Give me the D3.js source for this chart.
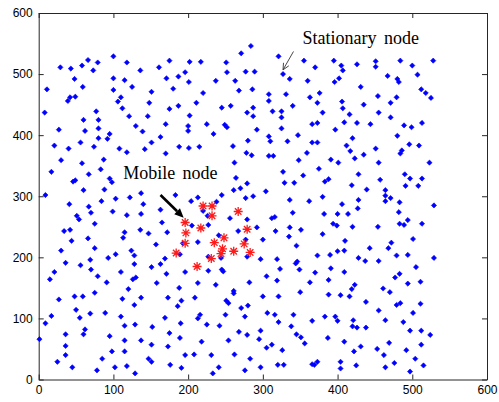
<!DOCTYPE html>
<html>
<head>
<meta charset="utf-8">
<script src="https://cdn.jsdelivr.net/npm/d3@7"></script>
<style>
  body { margin: 0; background: #fff; }
</style>
</head>
<body>
<div id="chart"></div>
<script>
// Ticks des axes
const xTicks = [0, 100, 200, 300, 400, 500, 600];
const yTicks = [0, 100, 200, 300, 400, 500, 600];

// Noeuds fixes, [x, y]
const stationaryNodes = [
  [100,529],[66,523],[79,519],[58,514],[29,511],[43,509],[73,506],[118,519],[136,506],[161,511],[175,522],[196,503],
  [48,492],[100,493],[115,490],[171,493],[187,496],[11,475],[59,479],[125,479],[100,474],[180,476],[151,471],[49,463],[42,462],[110,462],
  [284,546],[271,534],[321,529],[202,520],[217,520],[251,519],[355,522],[370,511],[395,522],[252,503],[277,504],[289,504],[327,500],
  [336,492],[201,487],[237,489],[263,489],[360,489],[396,487],[220,469],[268,473],[286,475],[308,467],[331,467],[376,469],[363,462],
  [402,493],[405,514],[407,506],[426,516],[451,521],[451,512],[484,522],[500,514],[528,522],[467,497],[480,492],[482,487],[507,499],
  [431,479],[512,475],[518,469],[525,461],[454,464],[479,462],
  [39,456],[106,455],[148,453],[112,444],[175,443],[187,448],[8,437],[77,439],[60,425],[80,425],[121,431],[146,431],[27,409],[62,407],
  [80,411],[130,415],[139,406],[170,418],[95,402],[80,395],[92,394],[56,388],[21,383],[40,378],[74,381],[108,378],[118,372],[142,377],
  [151,388],[163,397],[188,381],[170,370],[30,359],[58,354],[87,360],[17,340],[67,336],[83,344],[49,326],[46,324],[95,329],[98,323],[60,310],[88,311],
  [211,453],[245,445],[257,448],[279,437],[287,445],[287,431],[308,456],[313,439],[325,439],[325,429],[340,448],[373,453],[380,437],
  [202,432],[200,415],[200,407],[225,418],[234,402],[249,417],[252,413],[292,409],[308,398],[310,390],[325,411],[333,390],[347,400],
  [366,418],[373,420],[397,409],[201,379],[215,381],[260,382],[280,391],[278,371],[285,367],[308,366],[314,366],[359,371],[366,388],
  [373,388],[262,355],[348,359],[391,360],[375,345],[327,340],[354,334],[264,330],[279,321],[329,322],[342,322],[383,324],[388,328],
  [261,310],[270,313],[304,308],
  [406,455],[407,444],[435,450],[471,453],[416,434],[455,437],[471,429],[409,421],[426,420],[444,418],[489,416],[499,413],[513,420],
  [420,395],[480,399],[412,383],[417,374],[435,368],[423,362],[451,378],[486,375],[484,370],[496,385],[509,383],[401,355],[455,355],
  [523,355],[428,336],[490,336],[497,329],[513,329],[457,327],[419,318],[439,311],[464,310],[491,317],[508,317],
  [9,302],[41,287],[67,283],[84,292],[103,296],[122,298],[137,305],[140,287],[183,302],[70,273],[99,275],[118,269],[137,271],[163,278],
  [51,268],[54,262],[165,257],[75,255],[34,243],[42,245],[115,241],[113,232],[136,245],[147,239],[172,241],[66,231],[44,227],[157,221],
  [193,223],[30,211],[75,215],[124,211],[103,205],[93,199],[128,203],[169,198],[189,205],[36,191],[56,187],[69,196],[70,180],[128,189],
  [163,189],[151,184],[21,176],[110,176],[79,169],[171,173],[196,176],[15,164],[91,159],[126,164],[130,167],[158,158],
  [204,292],[213,298],[245,302],[277,297],[287,300],[238,291],[336,294],[362,292],[380,299],[220,276],[226,268],[256,264],[279,262],
  [312,264],[316,266],[340,273],[382,271],[205,252],[227,253],[241,236],[267,243],[292,249],[317,243],[336,249],[351,245],[394,255],
  [335,234],[380,238],[213,225],[300,229],[345,219],[277,229],[227,201],[244,199],[279,201],[297,197],[319,197],[346,193],[344,190],
  [373,203],[390,204],[227,178],[245,180],[247,177],[323,181],[349,180],[370,175],[391,182],[213,158],[282,159],[305,169],[319,162],
  [363,159],[388,163],
  [464,301],[464,292],[471,297],[428,294],[406,287],[427,280],[483,290],[482,274],[529,285],[400,271],[414,271],[494,261],[483,255],
  [489,253],[513,255],[399,252],[420,250],[454,250],[501,230],[410,227],[472,224],[468,215],[443,215],[400,210],[409,211],[479,203],
  [494,204],[428,199],[437,194],[455,194],[529,199],[505,184],[409,176],[483,173],[477,167],[494,157],[511,160],
  [188,150],[120,148],[27,131],[48,136],[59,136],[75,142],[112,132],[137,134],[173,134],[191,129],[186,120],[128,122],[50,114],[17,104],
  [55,101],[69,108],[89,109],[110,103],[169,101],[9,92],[115,88],[129,90],[152,86],[190,92],[62,82],[60,74],[36,74],[1,66],[95,71],
  [175,76],[189,68],[36,55],[115,64],[137,64],[151,57],[173,54],[98,46],[115,46],[36,40],[85,34],[147,34],[151,29],[196,40],[25,29],
  [45,20],[102,20],[118,22],[176,24],[191,19],[78,15],[129,10],
  [237,155],[209,134],[261,145],[261,141],[251,129],[254,125],[300,136],[321,136],[350,143],[388,139],[271,117],[280,121],[306,109],
  [316,106],[321,94],[341,106],[383,103],[397,103],[366,96],[216,106],[213,100],[250,106],[276,103],[225,90],[242,88],[338,87],[297,80],
  [268,78],[279,73],[345,74],[351,69],[356,59],[387,68],[295,66],[218,62],[254,64],[312,57],[305,52],[326,48],[208,41],[231,40],[262,41],
  [283,34],[241,20],[233,10],[276,15],[297,20],[320,24],[328,24],[366,25],[369,24],[373,29],
  [423,155],[419,148],[461,149],[470,143],[404,138],[416,136],[438,127],[455,113],[479,122],[484,125],[511,124],[501,109],[400,96],
  [421,97],[464,97],[488,94],[420,87],[426,85],[438,85],[497,80],[512,80],[524,73],[409,62],[431,54],[469,60],[512,57],[422,46],[453,50],
  [492,48],[462,40],[504,34],[404,29],[404,18],[425,23],[464,20],[476,27],[515,23],[497,13]
];

// Noeuds mobiles (étoiles rouges)
const mobileNodes = [
  [196,257],[197,240],[196,223],[184,207],[212,185],[220,284],[232,284],[232,268],[217,248],[267,275],
  [279,246],[248,232],[235,224],[246,214],[244,206],[261,210],[275,222],[283,208],[231,198]
];

// Annotations : [texte, x, y] et flèches [x1, y1, x2, y2] en unités des données
const labels = [["Stationary node", 353, 550], ["Mobile node", 113, 329]];
const arrowStationary = [341, 537, 327, 507];
const arrowMobile = [163, 302, 194, 265];

// Dimensions
const width = 499, height = 402;

const x = d3.scaleLinear().domain([0, 600]).range([38.7, 487]);
const y = d3.scaleLinear().domain([0, 600]).range([379.5, 13]);

const svg = d3.select("#chart").append("svg")
  .attr("width", width)
  .attr("height", height)
  .style("display", "block")
  .style("background", "#fff");

// Axes avec ticks vers l'intérieur (style MATLAB)
const axisColor = "#262626";
function styleAxis(g) {
  g.selectAll("path, line").attr("stroke", axisColor);
  g.selectAll("text")
    .attr("fill", "#000")
    .style("font-family", "'Liberation Sans', Arial, sans-serif")
    .style("font-size", "12px");
}

svg.append("g")
  .attr("transform", `translate(0,${y(0)})`)
  .call(d3.axisBottom(x).tickValues(xTicks).tickSizeInner(-5).tickSizeOuter(0).tickPadding(6))
  .call(styleAxis);
svg.append("g")
  .attr("transform", `translate(0,${y(600)})`)
  .call(d3.axisTop(x).tickValues(xTicks).tickSizeInner(-5).tickSizeOuter(0).tickFormat(""))
  .call(styleAxis);
svg.append("g")
  .attr("transform", `translate(${x(0)},0)`)
  .call(d3.axisLeft(y).tickValues(yTicks).tickSizeInner(-5).tickSizeOuter(0).tickPadding(6))
  .call(styleAxis);
svg.append("g")
  .attr("transform", `translate(${x(600)},0)`)
  .call(d3.axisRight(y).tickValues(yTicks).tickSizeInner(-5).tickSizeOuter(0).tickFormat(""))
  .call(styleAxis);

// Noeuds fixes : petits losanges bleus
svg.append("g").selectAll("path")
  .data(stationaryNodes)
  .enter()
  .append("path")
  .attr("d", "M0,-2.6L2.6,0L0,2.6L-2.6,0Z")
  .attr("transform", d => `translate(${x(d[0])},${y(d[1])})`)
  .attr("fill", "#0000ff")
  .attr("stroke", "#0000ff")
  .attr("stroke-width", 0.6);

// Noeuds mobiles : astérisques rouges
const r = 4.5, rd = r * 0.72;
const starPath = `M${-r},0L${r},0M0,${-r}L0,${r}M${-rd},${-rd}L${rd},${rd}M${-rd},${rd}L${rd},${-rd}`;
svg.append("g").selectAll("path")
  .data(mobileNodes)
  .enter()
  .append("path")
  .attr("d", starPath)
  .attr("transform", d => `translate(${x(d[0])},${y(d[1])})`)
  .attr("fill", "none")
  .attr("stroke", "#ff1a1a")
  .attr("stroke-width", 1.3);

// Textes des annotations
svg.selectAll(".note")
  .data(labels)
  .enter()
  .append("text")
  .attr("class", "note")
  .attr("x", d => x(d[1]))
  .attr("y", d => y(d[2]))
  .style("font-family", "'Liberation Serif', 'Times New Roman', serif")
  .style("font-size", "18px")
  .style("word-spacing", "3px")
  .attr("fill", "#000")
  .text(d => d[0]);

// Flèche fine (noeud fixe), pointe ouverte
function arrowHead(a, len, spread) {
  const x1 = x(a[0]), y1 = y(a[1]), x2 = x(a[2]), y2 = y(a[3]);
  const ang = Math.atan2(y2 - y1, x2 - x1);
  const p1 = [x2 - len * Math.cos(ang - spread), y2 - len * Math.sin(ang - spread)];
  const p2 = [x2 - len * Math.cos(ang + spread), y2 - len * Math.sin(ang + spread)];
  return { x1, y1, x2, y2, p1, p2 };
}

const s = arrowHead(arrowStationary, 7, 0.45);
svg.append("path")
  .attr("d", `M${s.x1},${s.y1}L${s.x2},${s.y2}M${s.p1[0]},${s.p1[1]}L${s.x2},${s.y2}L${s.p2[0]},${s.p2[1]}`)
  .attr("fill", "none")
  .attr("stroke", "#333")
  .attr("stroke-width", 0.9);

// Flèche épaisse (noeud mobile), pointe pleine
const m = arrowHead(arrowMobile, 10, 0.42);
svg.append("line")
  .attr("x1", m.x1).attr("y1", m.y1)
  .attr("x2", (m.p1[0] + m.p2[0]) / 2).attr("y2", (m.p1[1] + m.p2[1]) / 2)
  .attr("stroke", "#000")
  .attr("stroke-width", 2.6);
svg.append("path")
  .attr("d", `M${m.p1[0]},${m.p1[1]}L${m.x2},${m.y2}L${m.p2[0]},${m.p2[1]}Z`)
  .attr("fill", "#000");
</script>
</body>
</html>
